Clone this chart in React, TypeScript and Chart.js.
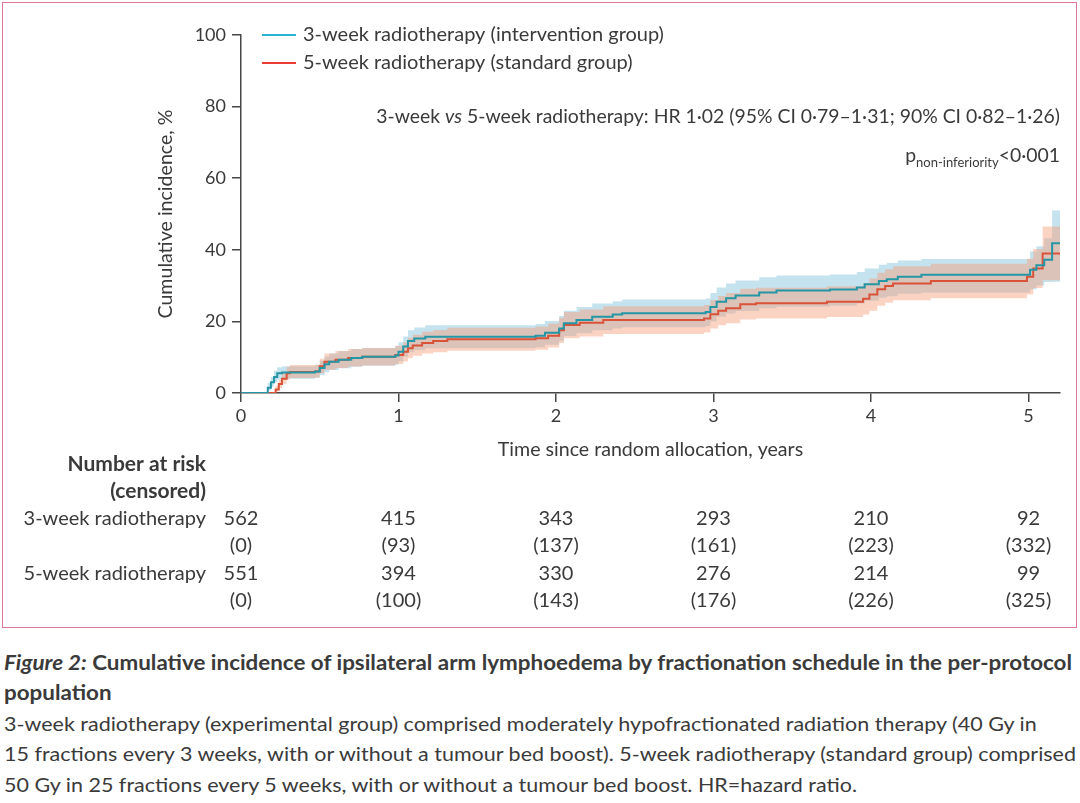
import React, { useEffect, useRef } from 'react';
import { Chart, registerables } from 'chart.js';

Chart.register(...registerables);

const FONT = 'Lato, "Open Sans", "Noto Sans", sans-serif';
const INK = '#3a3a3a';
const AXIS = '#474747';

// ---- axes ----
const xTicks = [0, 1, 2, 3, 4, 5];
const xMax = 5.2;
const yMin = 0;
const yMax = 100;
const yStep = 20;

// ---- 3-week radiotherapy (intervention group) ----
const blueTime = [0, 0.17, 0.19, 0.21, 0.23, 0.26, 0.47, 0.5, 0.53, 0.56, 0.62, 0.7, 0.77, 0.98, 1.0, 1.03, 1.06, 1.1, 1.17, 1.87, 1.93, 2.02, 2.05, 2.13, 2.23, 2.36, 2.42, 2.95, 2.98, 3.02, 3.08, 3.14, 3.29, 3.4, 3.74, 3.91, 3.96, 4.05, 4.1, 4.17, 4.32, 5.01, 5.05, 5.1, 5.15, 5.2];
const blueValue = [0, 1.5, 3.0, 4.5, 5.5, 5.7, 6.0, 7.0, 8.0, 8.7, 9.3, 9.8, 10.1, 10.5, 11.5, 13.0, 14.5, 15.2, 15.7, 16.0, 16.8, 18.0, 19.5, 20.4, 21.3, 21.9, 22.3, 22.6, 24.0, 25.5, 26.5, 27.2, 28.1, 28.6, 28.9, 29.5, 30.4, 31.3, 31.8, 32.5, 33.0, 34.4, 35.7, 37.2, 41.8, 41.8];
const blueLower = [0, 0.7, 1.8, 3.0, 3.8, 4.0, 4.2, 5.0, 5.8, 6.4, 6.9, 7.3, 7.6, 7.9, 8.8, 10.1, 11.4, 12.0, 12.5, 12.8, 13.5, 14.6, 15.9, 16.7, 17.5, 18.0, 18.4, 18.7, 20.0, 21.3, 22.2, 22.9, 23.7, 24.1, 24.4, 25.0, 25.8, 26.6, 27.0, 27.7, 28.0, 29.0, 30.0, 31.0, 31.1, 31.1];
const blueUpper = [0, 2.8, 4.5, 6.2, 7.2, 7.5, 7.9, 9.0, 10.2, 11.0, 11.7, 12.3, 12.6, 13.1, 14.2, 15.8, 17.5, 18.3, 18.9, 19.3, 20.1, 21.5, 23.0, 24.0, 25.0, 25.6, 26.1, 26.4, 27.9, 29.5, 30.6, 31.4, 32.3, 32.8, 33.1, 33.8, 34.8, 35.8, 36.3, 37.0, 37.4, 39.5, 41.0, 43.2, 51.0, 51.0];

// ---- 5-week radiotherapy (standard group) ----
const redTime = [0, 0.22, 0.24, 0.26, 0.29, 0.31, 0.47, 0.5, 0.53, 0.6, 0.68, 0.77, 0.98, 1.03, 1.06, 1.09, 1.15, 1.22, 1.31, 1.87, 1.95, 2.02, 2.05, 2.15, 2.3, 2.94, 2.98, 3.03, 3.08, 3.17, 3.27, 3.72, 3.95, 3.99, 4.04, 4.09, 4.14, 4.38, 4.99, 5.03, 5.09, 5.2];
const redValue = [0, 1.0, 2.5, 4.0, 5.5, 5.9, 6.0, 7.5, 8.7, 9.3, 9.8, 10.1, 10.6, 11.5, 12.5, 13.3, 14.0, 14.5, 15.0, 15.3, 16.0, 17.5, 19.0, 19.6, 20.4, 20.8, 22.0, 23.0, 23.7, 24.8, 25.1, 25.5, 26.3, 27.5, 29.0, 29.9, 30.6, 31.3, 32.5, 34.8, 39.0, 39.0];
const redLower = [0, 0.4, 1.4, 2.6, 3.8, 4.2, 4.3, 5.5, 6.5, 7.0, 7.4, 7.7, 8.1, 8.8, 9.7, 10.4, 11.0, 11.4, 11.8, 12.1, 12.7, 14.0, 15.3, 15.8, 16.5, 16.9, 18.0, 18.9, 19.5, 20.5, 20.8, 21.2, 21.9, 23.0, 24.4, 25.2, 25.9, 26.5, 27.5, 29.3, 31.5, 31.5];
const redUpper = [0, 2.0, 3.8, 5.6, 7.3, 7.8, 7.9, 9.6, 11.0, 11.7, 12.3, 12.6, 13.2, 14.2, 15.4, 16.3, 17.1, 17.6, 18.2, 18.6, 19.4, 21.0, 22.6, 23.3, 24.2, 24.6, 26.0, 27.1, 27.9, 29.1, 29.4, 29.8, 30.7, 32.0, 33.6, 34.6, 35.4, 36.1, 37.5, 40.2, 46.5, 46.5];

// ---- number at risk (censored) ----
const riskYears = [0, 1, 2, 3, 4, 5];
const atRisk3 = [562, 415, 343, 293, 210, 92];
const censored3 = [0, 93, 137, 161, 223, 332];
const atRisk5 = [551, 394, 330, 276, 214, 99];
const censored5 = [0, 100, 143, 176, 226, 325];

// ---- texts ----
const seriesLabels = ['3-week radiotherapy (intervention group)', '5-week radiotherapy (standard group)'];
const rowLabels = ['3-week radiotherapy', '5-week radiotherapy'];
const xTitle = 'Time since random allocation, years';
const yTitle = 'Cumulative incidence, %';

const BLUE_LINE = '#2596a6';
const RED_LINE = '#da5238';
const BLUE_LEGEND = '#2bb3d4';
const RED_LEGEND = '#ec3b33';
const BLUE_BAND = 'rgba(110,185,212,0.40)';
const RED_BAND = 'rgba(247,158,122,0.45)';

const pts = (xs: number[], ys: number[]) => xs.map((x, i) => ({ x, y: ys[i] }));

const f = (size: number, style = '', weight = '') => `${style} ${weight} ${size}px ${FONT}`.trim();

const figureText = {
  id: 'figureText',
  afterDraw(chart: any) {
    const { ctx, chartArea, scales } = chart;
    const xs = scales.x;
    const left = chartArea.left;
    const right = chartArea.right;
    const top = chartArea.top;
    ctx.save();
    ctx.fillStyle = INK;
    ctx.textBaseline = 'middle';

    // legend
    const legendColors = [BLUE_LEGEND, RED_LEGEND];
    seriesLabels.forEach((lab, i) => {
      const yy = top + i * 28;
      ctx.strokeStyle = legendColors[i];
      ctx.lineWidth = 2;
      ctx.beginPath();
      ctx.moveTo(left + 21, yy);
      ctx.lineTo(left + 55, yy);
      ctx.stroke();
      ctx.font = f(20);
      ctx.textAlign = 'left';
      ctx.fillStyle = INK;
      ctx.fillText(lab, left + 62, yy);
    });

    // HR annotation (right aligned)
    const drawSegs = (segs: [string, string, number][], xRight: number, yy: number) => {
      let total = 0;
      for (const [t, fo] of segs) { ctx.font = fo; total += ctx.measureText(t).width; }
      let x = xRight - total;
      ctx.textAlign = 'left';
      for (const [t, fo, dy] of segs) {
        ctx.font = fo;
        ctx.fillText(t, x, yy + dy);
        x += ctx.measureText(t).width;
      }
    };
    ctx.textBaseline = 'middle';
    drawSegs([
      ['3-week ', f(19.4), 0],
      ['vs', f(19.4, 'italic'), 0],
      [' 5-week radiotherapy: HR 1·02 (95% CI 0·79–1·31; 90% CI 0·82–1·26)', f(19.4), 0],
    ], right, top + 82);
    ctx.textBaseline = 'alphabetic';
    drawSegs([
      ['p', f(19.4), 0],
      ['non-inferiority', f(13), 5],
      ['<0·001', f(19.4), 0],
    ], right, top + 127);

    // number at risk table
    ctx.textBaseline = 'middle';
    const labelRight = 206;
    ctx.textAlign = 'right';
    ctx.font = f(21, '', 'bold');
    ctx.fillText('Number at risk', labelRight, 464);
    ctx.fillText('(censored)', labelRight, 491);
    ctx.font = f(20);
    ctx.fillText(rowLabels[0], labelRight, 519);
    ctx.fillText(rowLabels[1], labelRight, 574);
    ctx.textAlign = 'center';
    riskYears.forEach((yr, i) => {
      const px = xs.getPixelForValue(yr);
      ctx.fillText(String(atRisk3[i]), px, 519);
      ctx.fillText(`(${censored3[i]})`, px, 546);
      ctx.fillText(String(atRisk5[i]), px, 574);
      ctx.fillText(`(${censored5[i]})`, px, 601);
    });
    ctx.restore();
  },
};

const lineBase = { pointRadius: 0, pointHoverRadius: 0, stepped: true as const, tension: 0 };

export default function App() {
  const canvasRef = useRef<HTMLCanvasElement>(null);
  const lineRefs = useRef<(HTMLSpanElement | null)[]>([]);

  useEffect(() => {
    const canvas = canvasRef.current!;
    const chart = new Chart(canvas, {
      type: 'line',
      data: {
        datasets: [
          { ...lineBase, label: seriesLabels[0], data: pts(blueTime, blueValue), borderColor: BLUE_LINE, borderWidth: 2, fill: false, order: 0 },
          { ...lineBase, label: seriesLabels[1], data: pts(redTime, redValue), borderColor: RED_LINE, borderWidth: 2, fill: false, order: 1 },
          { ...lineBase, label: 'red upper', data: pts(redTime, redUpper), borderWidth: 0, borderColor: 'rgba(0,0,0,0)', backgroundColor: RED_BAND, fill: '+1', order: 2 },
          { ...lineBase, label: 'red lower', data: pts(redTime, redLower), borderWidth: 0, borderColor: 'rgba(0,0,0,0)', fill: false, order: 3 },
          { ...lineBase, label: 'blue upper', data: pts(blueTime, blueUpper), borderWidth: 0, borderColor: 'rgba(0,0,0,0)', backgroundColor: BLUE_BAND, fill: '+1', order: 4 },
          { ...lineBase, label: 'blue lower', data: pts(blueTime, blueLower), borderWidth: 0, borderColor: 'rgba(0,0,0,0)', fill: false, order: 5 },
        ],
      },
      options: {
        animation: false,
        responsive: false,
        maintainAspectRatio: false,
        layout: { padding: { left: 150, top: 35, right: 20, bottom: 165 } },
        plugins: {
          legend: { display: false },
          tooltip: { enabled: false },
          filler: { drawTime: 'beforeDatasetsDraw', propagate: false },
        },
        scales: {
          x: {
            type: 'linear',
            min: 0,
            max: xMax,
            afterBuildTicks: (s: any) => { s.ticks = xTicks.map((v) => ({ value: v })); },
            afterFit: (s: any) => { s.height = 72; },
            grid: { drawOnChartArea: false, drawTicks: true, tickLength: 9, color: AXIS, lineWidth: 1.5 },
            border: { color: AXIS, width: 1.5 },
            ticks: { color: INK, font: { family: FONT, size: 18 }, padding: 3, maxRotation: 0 },
            title: { display: true, text: xTitle, color: INK, font: { family: FONT, size: 19.6 }, padding: { top: 4, bottom: 4 } },
          },
          y: {
            type: 'linear',
            min: yMin,
            max: yMax,
            ticks: { stepSize: yStep, color: INK, font: { family: FONT, size: 18 }, padding: 6 },
            afterFit: (s: any) => { s.width = 91; },
            grid: { drawOnChartArea: false, drawTicks: true, tickLength: 9, color: AXIS, lineWidth: 1.5 },
            border: { color: AXIS, width: 1.5 },
            title: { display: true, text: yTitle, color: INK, font: { family: FONT, size: 19.6 }, padding: { top: 4, bottom: 4 } },
          },
        },
      },
      plugins: [figureText],
    } as any);

    // fit caption lines to the reference widths
    const targets = [1068, -1, -1, 1072, -1];
    const scales: number[] = [];
    lineRefs.current.forEach((el, i) => {
      if (!el) return;
      const w = el.getBoundingClientRect().width;
      scales[i] = targets[i] > 0 ? targets[i] / w : 1;
    });
    // lines 3 and 5 follow line 4 (regular), line 2 follows line 1 (bold)
    scales[2] = scales[3];
    scales[4] = scales[3];
    scales[1] = scales[0];
    lineRefs.current.forEach((el, i) => {
      if (el) el.style.transform = `scaleX(${scales[i]})`;
    });

    return () => chart.destroy();
  }, []);

  const captionLines: React.ReactNode[] = [
    <><i>Figure 2:</i> Cumulative incidence of ipsilateral arm lymphoedema by fractionation schedule in the per-protocol</>,
    <>population</>,
    <>3-week radiotherapy (experimental group) comprised moderately hypofractionated radiation therapy (40 Gy in</>,
    <>15 fractions every 3 weeks, with or without a tumour bed boost). 5-week radiotherapy (standard group) comprised</>,
    <>50 Gy in 25 fractions every 5 weeks, with or without a tumour bed boost. HR=hazard ratio.</>,
  ];

  return (
    <div style={{ position: 'absolute', left: 0, top: 0, width: 1080, height: 803, background: '#ffffff', fontFamily: FONT, color: INK, overflow: 'hidden' }}>
      <div style={{ position: 'absolute', left: 2, top: 2, width: 1073, height: 624, border: '1.5px solid #d9789a' }} />
      <canvas ref={canvasRef} width={1080} height={630} style={{ position: 'absolute', left: 0, top: 0, width: 1080, height: 630 }} />
      <div style={{ position: 'absolute', left: 4, top: 647, fontSize: 20, lineHeight: '30.4px' }}>
        {captionLines.map((c, i) => (
          <div key={i} style={{ whiteSpace: 'nowrap', fontWeight: i < 2 ? 700 : 400 }}>
            <span ref={(el) => { lineRefs.current[i] = el; }} style={{ display: 'inline-block', transformOrigin: '0 50%' }}>{c}</span>
          </div>
        ))}
      </div>
    </div>
  );
}
